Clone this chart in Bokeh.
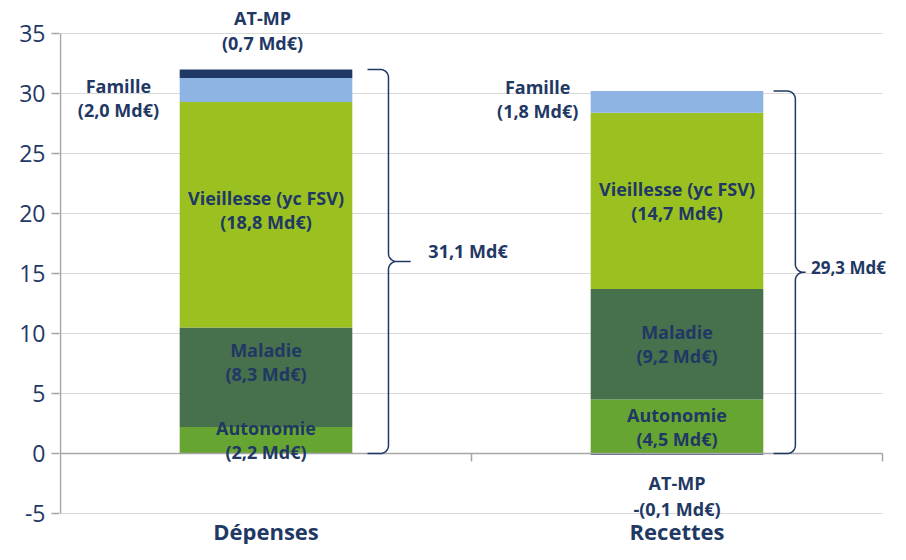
import numpy as np
from bokeh.plotting import figure
from bokeh.models import Range1d, FixedTicker, Label
from bokeh.embed import file_html
from bokeh.resources import INLINE

# ---------------- data ----------------
categories = ["Dépenses", "Recettes"]
series = ["Autonomie", "Maladie", "Vieillesse (yc FSV)", "Famille", "AT-MP"]
autonomie = [2.2, 4.5]
maladie = [8.3, 9.2]
vieillesse = [18.8, 14.7]
famille = [2.0, 1.8]
atmp = [0.7, -0.1]
totals = [31.1, 29.3]
y_ticks = [-5, 0, 5, 10, 15, 20, 25, 30, 35]

colors = ["#67A532", "#47704C", "#9BC121", "#8EB4E3", "#1F3864"]
NAVY = "#1F3864"
AXIS = "#A6A6A6"
FONT = "Open Sans"
LAB_SIZE = "18px"

values = np.array([autonomie, maladie, vieillesse, famille, atmp], dtype=float)
ncat = len(categories)

# ---------------- figure ----------------
# the frame covers the whole figure right of the y-axis labels, so that outside texts are not clipped
PX_X, PX_Y = 411.0, 12.0      # pixels per data unit
X0_PX, Y0_PX = 60.0, 453.0    # pixel position of (x=0, y=0)
W, H, LEFT = 890, 544, 59
p = figure(width=W, height=H, output_backend="svg", toolbar_location=None,
           x_range=Range1d((LEFT - X0_PX) / PX_X, (W - X0_PX) / PX_X),
           y_range=Range1d((Y0_PX - H) / PX_Y, Y0_PX / PX_Y))
p.min_border = 0
p.min_border_left = LEFT
p.outline_line_color = None
p.background_fill_color = "white"
p.border_fill_color = "white"

# y axis (line drawn separately so it stops at -5 / 35)
p.yaxis.ticker = FixedTicker(ticks=y_ticks)
p.yaxis.major_label_overrides = {t: str(t) for t in y_ticks}
p.yaxis.axis_line_color = None
p.yaxis.major_tick_line_color = AXIS
p.yaxis.major_tick_line_width = 1.5
p.yaxis.major_tick_out = 8
p.yaxis.major_tick_in = 0
p.yaxis.minor_tick_line_color = None
p.yaxis.major_label_text_font = FONT
p.yaxis.major_label_text_font_size = "23px"
p.yaxis.major_label_text_color = NAVY
p.yaxis.major_label_standoff = 6
p.xaxis.visible = False
p.xgrid.grid_line_color = None
p.ygrid.grid_line_color = None

# horizontal grid lines
grid_y = [t for t in y_ticks if t != 0]
p.segment(x0=[0] * len(grid_y), y0=grid_y, x1=[ncat] * len(grid_y), y1=grid_y,
          line_color="#D9D9D9", line_width=1.2)
# y axis line
p.segment(x0=[0], y0=[min(y_ticks)], x1=[0], y1=[max(y_ticks)], line_color=AXIS, line_width=1.5)

# ---------------- stacked bars (positive up, negative down) ----------------
centers = [i + 0.5 for i in range(ncat)]
BAR_W = 0.42
pos_base = np.zeros(ncat)
neg_base = np.zeros(ncat)
bottoms, tops = [], []
for vals in values:
    b = np.where(vals >= 0, pos_base, neg_base + vals)
    t = np.where(vals >= 0, pos_base + vals, neg_base)
    pos_base = np.where(vals >= 0, pos_base + vals, pos_base)
    neg_base = np.where(vals < 0, neg_base + vals, neg_base)
    bottoms.append(b)
    tops.append(t)

for k, name in enumerate(series):
    p.vbar(x=centers, width=BAR_W, bottom=bottoms[k], top=tops[k],
           fill_color=colors[k], line_color=None)

# zero line with category boundary ticks
bounds = list(range(ncat + 1))
p.segment(x0=[0], y0=[0], x1=[ncat], y1=[0], line_color=AXIS, line_width=1.5)
p.segment(x0=bounds[1:], y0=[0] * ncat, x1=bounds[1:], y1=[-8 / PX_Y] * ncat,
          line_color=AXIS, line_width=1.5)


def fmt(v):
    s = f"{abs(v):.1f}".replace(".", ",")
    return ("-" if v < 0 else "") + f"({s} Md€)"


def lab(x, y, txt, size=LAB_SIZE, align="center"):
    p.add_layout(Label(x=x, y=y, text=txt, text_font=FONT, text_font_size=size,
                       text_font_style="bold", text_color=NAVY,
                       text_align=align, text_baseline="middle"))


def add_two_lines(x, yc, l1, l2, gap=1.0):
    lab(x, yc + gap, l1)
    lab(x, yc - gap, l2)


# labels inside bars (Autonomie, Maladie, Vieillesse)
adjust = {(1, 0): 1.3, (2, 0): 0.4}
for k in range(3):
    for j in range(ncat):
        mid = (bottoms[k][j] + tops[k][j]) / 2 + adjust.get((k, j), 0)
        add_two_lines(centers[j], mid, series[k], fmt(values[k][j]))

# Famille labels (left of bars)
fam_pos = [(0.141, 29.6), (1.161, 29.55)]
for j, (x, y) in enumerate(fam_pos):
    add_two_lines(x, y, series[3], fmt(values[3][j]))

# AT-MP labels (above / below)
at_pos = [(0.4915, 35.25), (1.5, -3.54)]
for j, (x, y) in enumerate(at_pos):
    add_two_lines(x, y, series[4], fmt(values[4][j]), gap=1.06)

# category labels
for j in range(ncat):
    lab(centers[j], (Y0_PX - 530) / PX_Y, categories[j], size="22px")

# ---------------- braces ----------------
tip_off = [0.247, 0.235]
spine_off = [0.298, 0.288]
mid_off = [0.352, 0.313]
lab_off = [0.395, 0.326]
lab_size = ["18px", "17px"]
lab_dy = [0.9, 0.4]
rx, ry = 8 / PX_X, 8 / PX_Y


def arc(cx, cy, a0, a1, n=10):
    t = np.linspace(a0, a1, n)
    return list(cx + rx * np.cos(t)), list(cy + ry * np.sin(t))


for j in range(ncat):
    y1 = pos_base[j]
    y0 = 0.0
    ym = (y0 + y1) / 2
    xt = centers[j] + tip_off[j]
    xs = centers[j] + spine_off[j]
    xm = centers[j] + mid_off[j]
    X, Y = [xt], [y1]
    ax, ay = arc(xs - rx, y1 - ry, np.pi / 2, 0)
    X += ax; Y += ay
    ax, ay = arc(xs + rx, ym + ry, np.pi, 3 * np.pi / 2)
    X += ax; Y += ay
    X += [xm, xs + rx]; Y += [ym, ym]
    ax, ay = arc(xs + rx, ym - ry, np.pi / 2, np.pi)
    X += ax; Y += ay
    ax, ay = arc(xs - rx, y0 + ry, 0, -np.pi / 2)
    X += ax; Y += ay
    X += [xt]; Y += [y0]
    p.line(X, Y, line_color=NAVY, line_width=1.5)
    lab(centers[j] + lab_off[j], ym + lab_dy[j],
        f"{totals[j]:.1f}".replace(".", ",") + " Md€", size=lab_size[j], align="left")

open("out.html", "w").write(file_html(p, INLINE))
